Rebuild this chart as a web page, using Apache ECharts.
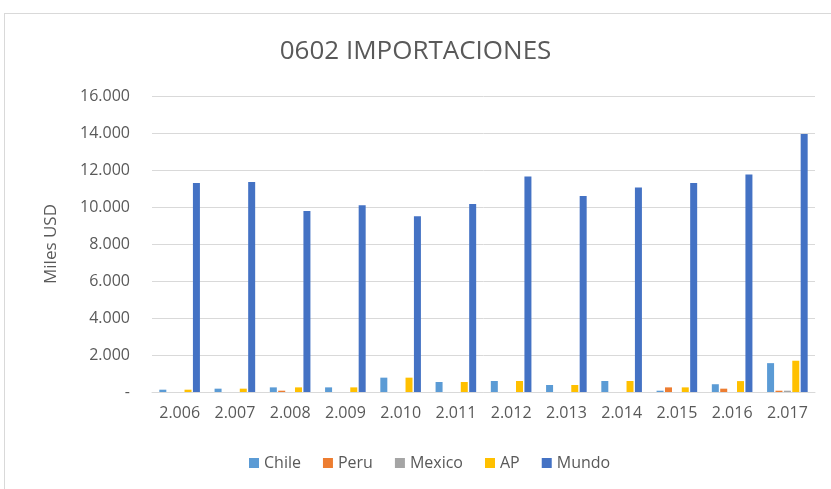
<!DOCTYPE html>
<html>
<head>
<meta charset="utf-8">
<script src="https://cdn.jsdelivr.net/npm/echarts@6/dist/echarts.min.js"></script>
<style>
  html, body { margin: 0; padding: 0; background: #fff; }
  #frame {
    position: absolute;
    left: 4px;
    top: 13px;
    width: 840px;
    height: 500px;
    border: 1px solid #d9d9d9;
  }
  #chart {
    position: absolute;
    left: 0;
    top: 0;
    width: 831px;
    height: 489px;
  }
</style>
</head>
<body>
<div id="frame"></div>
<div id="chart"></div>
<script>
  // datos (miles USD)
  var years = ['2.006', '2.007', '2.008', '2.009', '2.010', '2.011', '2.012', '2.013', '2.014', '2.015', '2.016', '2.017'];
  var chile  = [125, 180, 250, 250, 775, 540, 595, 380, 595, 70, 420, 1560];
  var peru   = [0, 0, 70, 0, 0, 0, 0, 0, 0, 250, 180, 70];
  var mexico = [0, 0, 0, 0, 0, 0, 0, 0, 0, 0, 0, 70];
  var ap     = [125, 180, 250, 250, 775, 540, 595, 380, 595, 250, 590, 1690];
  var mundo  = [11300, 11350, 9780, 10100, 9500, 10160, 11650, 10600, 11050, 11300, 11760, 13950];
  var yTicks = [0, 2000, 4000, 6000, 8000, 10000, 12000, 14000, 16000];

  var txt = '#595959';
  var font = 'Open Sans';

  function fmt(v) {
    if (v === 0) return '-';
    return String(v).replace(/\B(?=(\d{3})+(?!\d))/g, '.');
  }

  function bar(name, data, color) {
    return {
      name: name,
      type: 'bar',
      data: data,
      barWidth: 7,
      barGap: '20%',
      itemStyle: { color: color }
    };
  }

  var chart = echarts.init(document.getElementById('chart'));
  chart.setOption({
    animation: false,
    title: {
      text: '0602 IMPORTACIONES',
      left: 'center',
      top: 34,
      textStyle: { fontFamily: font, fontSize: 26, fontWeight: 'normal', color: txt }
    },
    legend: {
      bottom: 13,
      left: 244,
      itemWidth: 10,
      itemHeight: 10,
      itemGap: 22,
      icon: 'rect',
      textStyle: { fontFamily: font, fontSize: 16, color: txt }
    },
    grid: { left: 152, right: 16, top: 96, bottom: 97, containLabel: false },
    xAxis: {
      type: 'category',
      data: years,
      axisLine: { lineStyle: { color: '#d9d9d9' } },
      axisTick: { show: false },
      axisLabel: { fontFamily: font, fontSize: 16, color: txt, margin: 13 }
    },
    yAxis: {
      type: 'value',
      min: yTicks[0],
      max: yTicks[yTicks.length - 1],
      interval: yTicks[1] - yTicks[0],
      name: 'Miles USD',
      nameLocation: 'middle',
      nameGap: 92,
      nameTextStyle: { fontFamily: font, fontSize: 17, color: txt },
      axisLine: { show: false },
      axisTick: { show: false },
      splitLine: { lineStyle: { color: '#d9d9d9' } },
      axisLabel: { fontFamily: font, fontSize: 16, color: txt, margin: 22, formatter: fmt }
    },
    series: [
      bar('Chile', chile, '#5b9bd5'),
      bar('Peru', peru, '#ed7d31'),
      bar('Mexico', mexico, '#a5a5a5'),
      bar('AP', ap, '#ffc000'),
      bar('Mundo', mundo, '#4472c4')
    ]
  });
</script>
</body>
</html>
